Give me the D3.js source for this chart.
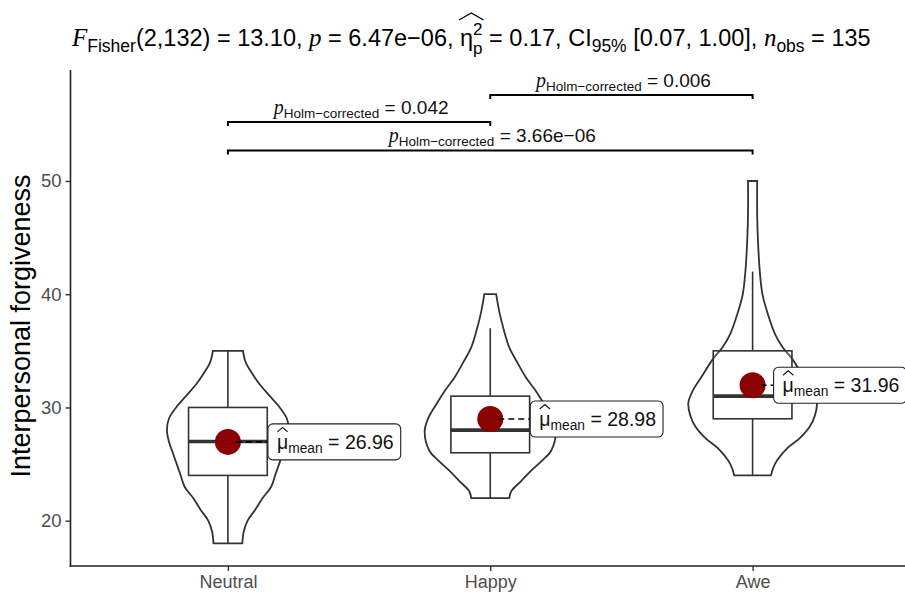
<!DOCTYPE html>
<html>
<head>
<meta charset="utf-8">
<script src="https://cdn.jsdelivr.net/npm/d3@7"></script>
<style>
  body { margin: 0; background: #fff; }
  text { white-space: pre; }
</style>
</head>
<body>
<svg id="chart" width="905" height="595"></svg>
<script>
// ---- data ----
const categories = ["Neutral", "Happy", "Awe"];
const boxQ1 = [24, 26, 29];
const boxMedian = [27, 28, 31];
const boxQ3 = [30, 31, 35];
const whiskerLow = [18, 22, 24];
const whiskerHigh = [35, 37, 42];
const groupMeans = [26.96, 28.98, 31.96];
const yTicks = [20, 30, 40, 50];

// violin outlines: [score, relative density]
const neutralViolin = [[18,0.22],[19,0.24],[20,0.30],[21,0.42],[22,0.53],[23,0.66],[24,0.72],[25,0.78],[26,0.84],[27,0.90],[28,0.93],[29,0.90],[30,0.79],[31,0.64],[32,0.49],[33,0.37],[34,0.27],[35,0.23]];
const happyViolin = [[22,0.29],[22.6,0.32],[23.5,0.47],[24.4,0.62],[25.3,0.79],[26.2,0.93],[27.9,1.0],[29,0.95],[30.3,0.82],[31.5,0.69],[32.6,0.55],[34,0.41],[35.3,0.29],[37,0.2],[38.4,0.14],[40,0.09]];
const aweViolin = [[24,0.28],[25,0.34],[26.4,0.53],[27.3,0.72],[28.3,0.87],[29.3,0.95],[30.4,0.98],[31.5,0.91],[32.6,0.79],[34.4,0.59],[35.3,0.46],[36.5,0.34],[38.3,0.23],[40,0.15],[42,0.11],[45,0.08],[47,0.07],[50,0.07]];
const violins = [neutralViolin, happyViolin, aweViolin];

// pairwise comparisons
const pairFrom = ["Neutral", "Happy", "Neutral"];
const pairTo = ["Happy", "Awe", "Awe"];
const pairLevel = [55.2, 57.6, 52.7];
const pairP = ["0.042", "0.006", "3.66e\u221206"];

// ---- layout ----
const sans = "'Liberation Sans', Arial, Helvetica, sans-serif";
const serif = "'Liberation Serif', 'Times New Roman', serif";
const ink = "#333333";

const svg = d3.select("#chart");
const panel = { left: 70.5, right: 910, top: 70, bottom: 566 };

const x = d3.scalePoint().domain(categories).range([panel.left, panel.right]).padding(0.6);
const y = d3.scaleLinear().domain([16.0, 59.8]).range([panel.bottom, panel.top]);
const step = x.step();
const violinHalf = step * 0.25;
const boxHalf = step * 0.15;

// rich text: sequence of pieces with sub/superscripts; "hold" stacks the next piece at the same x
function richText(parent, parts, color) {
  const g = parent.append("g");
  let cx = 0, held = null;
  const spans = [];
  parts.forEach(p => {
    const t = g.append("text")
      .attr("x", cx).attr("y", p.dy || 0)
      .attr("font-size", p.size)
      .attr("font-family", p.serif ? serif : sans)
      .attr("font-style", p.italic ? "italic" : null)
      .attr("fill", color || "#000")
      .text(p.t);
    const w = t.node().getComputedTextLength();
    spans.push({ x: cx, w });
    if (p.hold) { held = w; }
    else { cx += held !== null ? Math.max(held, w) : w; held = null; }
  });
  return { g, width: cx, spans };
}

// ---- violins ----
categories.forEach((c, i) => {
  const cx = x(c);
  const area = d3.area()
    .y(d => y(d[0]))
    .x0(d => cx - d[1] * violinHalf)
    .x1(d => cx + d[1] * violinHalf)
    .curve(d3.curveCatmullRom);
  svg.append("path")
    .attr("d", area(violins[i]))
    .attr("fill", "none")
    .attr("stroke", ink)
    .attr("stroke-width", 1.8);
});

// ---- boxplots ----
categories.forEach((c, i) => {
  const cx = x(c);
  svg.append("line").attr("x1", cx).attr("x2", cx)
    .attr("y1", y(boxQ3[i])).attr("y2", y(whiskerHigh[i]))
    .attr("stroke", ink).attr("stroke-width", 1.6);
  svg.append("line").attr("x1", cx).attr("x2", cx)
    .attr("y1", y(boxQ1[i])).attr("y2", y(whiskerLow[i]))
    .attr("stroke", ink).attr("stroke-width", 1.6);
  svg.append("rect")
    .attr("x", cx - boxHalf).attr("width", boxHalf * 2)
    .attr("y", y(boxQ3[i])).attr("height", y(boxQ1[i]) - y(boxQ3[i]))
    .attr("fill", "#fff").attr("fill-opacity", 0.2)
    .attr("stroke", ink).attr("stroke-width", 1.6);
  svg.append("line")
    .attr("x1", cx - boxHalf).attr("x2", cx + boxHalf)
    .attr("y1", y(boxMedian[i])).attr("y2", y(boxMedian[i]))
    .attr("stroke", ink).attr("stroke-width", 3.6);
});

// ---- means with labels ----
const labelNudge = [40, 40, 21];
categories.forEach((c, i) => {
  const cx = x(c);
  const my = y(groupMeans[i]);
  svg.append("circle").attr("cx", cx).attr("cy", my).attr("r", 13)
    .attr("fill", "#8B0000");
  const lx = cx + labelNudge[i];
  svg.append("line").attr("x1", cx + 8).attr("x2", lx)
    .attr("y1", my).attr("y2", my)
    .attr("stroke", "#000").attr("stroke-width", 1.6)
    .attr("stroke-dasharray", "6,4");

  const lg = svg.append("g");
  const rect = lg.append("rect");
  const rt = richText(lg, [
    { t: "\u03bc", size: 19.5 },
    { t: "mean", size: 13.8, dy: 4 },
    { t: " = " + groupMeans[i].toFixed(2), size: 19.5 }
  ], "#111");
  const padL = 9, padR = 7, h = 36;
  rt.g.attr("transform", `translate(${lx + padL},${my + 7})`);
  // hat over mu
  const mu = rt.spans[0];
  const hx0 = lx + padL + mu.x + 0.5, hx1 = hx0 + mu.w - 1;
  lg.append("path")
    .attr("d", `M${hx0},${my - 10} L${(hx0 + hx1) / 2},${my - 14.5} L${hx1},${my - 10}`)
    .attr("fill", "none").attr("stroke", "#111").attr("stroke-width", 1.1);
  rect.attr("x", lx).attr("y", my - h / 2)
    .attr("width", rt.width + padL + padR).attr("height", h)
    .attr("rx", 5).attr("ry", 5)
    .attr("fill", "#fff").attr("stroke", "#222").attr("stroke-width", 1.1);
});

// ---- pairwise brackets ----
pairFrom.forEach((from, i) => {
  const x0 = x(from), x1 = x(pairTo[i]), by = y(pairLevel[i]);
  svg.append("path")
    .attr("d", `M${x0},${by + 4} L${x0},${by} L${x1},${by} L${x1},${by + 4}`)
    .attr("fill", "none").attr("stroke", "#000").attr("stroke-width", 2);
  const rt = richText(svg, [
    { t: "p", size: 20, italic: true, serif: true },
    { t: "Holm\u2212corrected", size: 13.5, dy: 4 },
    { t: " = " + pairP[i], size: 19 }
  ], "#111");
  rt.g.attr("transform", `translate(${(x0 + x1) / 2 - rt.width / 2 + 2},${by - 8})`);
});

// ---- axes ----
const yAxis = svg.append("g")
  .attr("transform", `translate(${panel.left},0)`)
  .call(d3.axisLeft(y).tickValues(yTicks).tickSize(5).tickPadding(4));
yAxis.select(".domain").remove();
yAxis.append("line").attr("x1", 0).attr("x2", 0)
  .attr("y1", panel.top).attr("y2", panel.bottom + 1)
  .attr("stroke", "#222").attr("stroke-width", 1.6);
yAxis.selectAll(".tick line").attr("stroke", "#333").attr("stroke-width", 1.4);
yAxis.selectAll(".tick text").attr("font-family", sans).attr("font-size", 18.5).attr("fill", "#4D4D4D");

const xAxis = svg.append("g")
  .attr("transform", `translate(0,${panel.bottom})`)
  .call(d3.axisBottom(x).tickSize(5).tickPadding(4));
xAxis.select(".domain").remove();
xAxis.append("line").attr("x1", panel.left - 0.8).attr("x2", panel.right)
  .attr("y1", 0).attr("y2", 0)
  .attr("stroke", "#222").attr("stroke-width", 1.6);
xAxis.selectAll(".tick line").attr("stroke", "#333").attr("stroke-width", 1.4);
xAxis.selectAll(".tick text").attr("font-family", sans).attr("font-size", 18).attr("fill", "#4D4D4D");

svg.append("text")
  .attr("transform", `translate(30,${(panel.top + panel.bottom) / 2 + 8}) rotate(-90)`)
  .attr("text-anchor", "middle")
  .attr("font-family", sans).attr("font-size", 27).attr("fill", "#000")
  .text("Interpersonal forgiveness");

// ---- subtitle with test statistics ----
const title = richText(svg, [
  { t: "F", size: 25, italic: true, serif: true },
  { t: "Fisher", size: 17.5, dy: 6 },
  { t: "(2,132) = 13.10, ", size: 23.5 },
  { t: "p", size: 25, italic: true, serif: true },
  { t: " = 6.47e\u221206, ", size: 23.5 },
  { t: "\u03b7", size: 23.5 },
  { t: "2", size: 17, dy: -11, hold: true },
  { t: "p", size: 17, dy: 8 },
  { t: " = 0.17, CI", size: 23.5 },
  { t: "95%", size: 17.5, dy: 6 },
  { t: " [0.07, 1.00], ", size: 23.5 },
  { t: "n", size: 25, italic: true, serif: true },
  { t: "obs", size: 17.5, dy: 6 },
  { t: " = 135", size: 23.5 }
], "#000");
const titleX = 72, titleY = 46;
title.g.attr("transform", `translate(${titleX},${titleY})`);
// wide hat over eta with its scripts
const eta = title.spans[5], scr = title.spans[7];
const hx0 = titleX + eta.x - 1, hx1 = titleX + scr.x + scr.w + 1;
svg.append("path")
  .attr("d", `M${hx0},${titleY - 26} L${(hx0 + hx1) / 2},${titleY - 33} L${hx1},${titleY - 26}`)
  .attr("fill", "none").attr("stroke", "#000").attr("stroke-width", 1.3);
</script>
</body>
</html>
